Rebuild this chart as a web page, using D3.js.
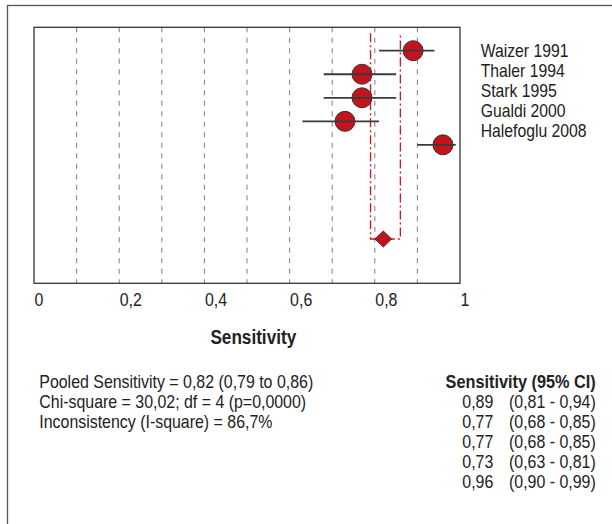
<!DOCTYPE html>
<html>
<head>
<meta charset="utf-8">
<script src="https://cdn.jsdelivr.net/npm/d3@7"></script>
<style>
  body { margin: 0; background: #fff; }
  svg { display: block; font-family: "Liberation Sans", Arial, sans-serif; }
</style>
</head>
<body>
<svg id="chart"></svg>
<script>
// Study data
const studies = ["Waizer 1991", "Thaler 1994", "Stark 1995", "Gualdi 2000", "Halefoglu 2008"];
const sens = [0.89, 0.77, 0.77, 0.73, 0.96];
const lower = [0.81, 0.68, 0.68, 0.63, 0.90];
const upper = [0.94, 0.85, 0.85, 0.81, 0.99];

// Pooled estimate: [estimate, low, high]
const pooled = [0.82, 0.79, 0.86];

const xTicks = [0, 0.2, 0.4, 0.6, 0.8, 1];
const gridTicks = [0.1, 0.2, 0.3, 0.4, 0.5, 0.6, 0.7, 0.8, 0.9];

const statLines = [
  "Pooled Sensitivity = 0,82 (0,79 to 0,86)",
  "Chi-square = 30,02; df = 4 (p=0,0000)",
  "Inconsistency (I-square) = 86,7%"
];

// Chart dimensions
const width = 612;
const height = 524;
const plot = { left: 34, right: 460, top: 27.3, bottom: 283.3 };
const sx = 0.875; // condensed look of the original font
const ink = "#222";
const red = "#c4141b";

const comma = (d) => String(d).replace(".", ",");
const fmt2 = (d) => d.toFixed(2).replace(".", ",");

const svg = d3.select("#chart").attr("width", width).attr("height", height);

// Scales
const xScale = d3.scaleLinear().domain([0, 1]).range([plot.left, plot.right]);
// rows 0..4 are studies, row 8 is the pooled diamond
const yScale = d3.scaleLinear().domain([0, 8]).range([50.7, 239]);

function addText(parent, x, y, str, size, weight, anchor) {
  return parent
    .append("text")
    .attr("transform", `translate(${x},${y}) scale(${sx},1)`)
    .attr("text-anchor", anchor || "start")
    .style("font-size", size + "px")
    .style("font-weight", weight || "normal")
    .attr("fill", ink)
    .text(str);
}

// Outer frame (only top and left edges visible)
svg
  .append("rect")
  .attr("x", 7.5)
  .attr("y", 5.5)
  .attr("width", 700)
  .attr("height", 600)
  .attr("fill", "none")
  .attr("stroke", "#555")
  .attr("stroke-width", 1.3);

// Dashed gridlines
svg
  .selectAll(".grid")
  .data(gridTicks)
  .enter()
  .append("line")
  .attr("class", "grid")
  .attr("x1", (d) => xScale(d))
  .attr("x2", (d) => xScale(d))
  .attr("y1", plot.top)
  .attr("y2", plot.bottom)
  .attr("stroke", "#888")
  .attr("stroke-width", 1.1)
  .attr("stroke-dasharray", "5,5.5");

// Plot frame
svg
  .append("rect")
  .attr("x", xScale(0))
  .attr("y", plot.top)
  .attr("width", xScale(1) - xScale(0))
  .attr("height", plot.bottom - plot.top)
  .attr("fill", "none")
  .attr("stroke", "#333")
  .attr("stroke-width", 1.3);

// Pooled CI bracket (red dash-dot)
const bracketTop = plot.top + 6;
svg
  .append("path")
  .attr(
    "d",
    `M${xScale(pooled[1])},${bracketTop}V${yScale(8)}H${xScale(pooled[2])}V${bracketTop}`
  )
  .attr("fill", "none")
  .attr("stroke", "#e0101a")
  .attr("stroke-width", 1.3)
  .attr("stroke-dasharray", "9,3,2,3");

// Study circles
svg
  .selectAll(".dot")
  .data(sens)
  .enter()
  .append("circle")
  .attr("class", "dot")
  .attr("cx", (d) => xScale(d))
  .attr("cy", (d, i) => yScale(i))
  .attr("r", 10)
  .attr("fill", red)
  .attr("stroke", "#333")
  .attr("stroke-width", 1);

// CI lines drawn over the circles
svg
  .selectAll(".ci")
  .data(studies)
  .enter()
  .append("line")
  .attr("class", "ci")
  .attr("x1", (d, i) => xScale(lower[i]))
  .attr("x2", (d, i) => xScale(upper[i]))
  .attr("y1", (d, i) => yScale(i))
  .attr("y2", (d, i) => yScale(i))
  .attr("stroke", "#3a3a3a")
  .attr("stroke-width", 1.8);

// Pooled diamond
const dx = xScale(pooled[0]);
const dy = yScale(8);
svg
  .append("path")
  .attr("d", `M${dx - 8.3},${dy}L${dx},${dy - 8}L${dx + 8.3},${dy}L${dx},${dy + 8}Z`)
  .attr("fill", red)
  .attr("stroke", "#333")
  .attr("stroke-width", 1);

// X axis labels
const xAxis = d3.axisBottom(xScale).tickValues(xTicks).tickSize(0).tickFormat(comma);
const axisG = svg
  .append("g")
  .attr("transform", `translate(0, ${plot.bottom})`)
  .call(xAxis);
axisG.select(".domain").remove();
axisG
  .selectAll("text")
  .attr("y", 22.7)
  .attr("dy", null)
  .attr("text-anchor", "start")
  .attr("transform", `scale(${sx},1)`)
  .attr("fill", ink)
  .style("font-size", "18.2px")
  .style("font-family", '"Liberation Sans", Arial, sans-serif');

// X axis title
addText(svg, 253.3, 344, "Sensitivity", 19.6, "bold", "middle");

// Study names
const legendY = d3.scaleLinear().domain([0, 4]).range([57.3, 137.3]);
studies.forEach((s, i) => addText(svg, 480.7, legendY(i), s, 18));

// Statistics
const rowY = (i) => 388.3 + i * 20;
statLines.forEach((s, i) => addText(svg, 39.3, rowY(i), s, 18.2));

// Sensitivity (95% CI) column
addText(svg, 595.7, rowY(0), "Sensitivity (95% CI)", 18.6, "bold", "end");
sens.forEach((v, i) => {
  addText(svg, 493.3, rowY(i + 1), fmt2(v), 18.2, "normal", "end");
  addText(svg, 595.7, rowY(i + 1), `(${fmt2(lower[i])} - ${fmt2(upper[i])})`, 18.2, "normal", "end");
});
</script>
</body>
</html>
